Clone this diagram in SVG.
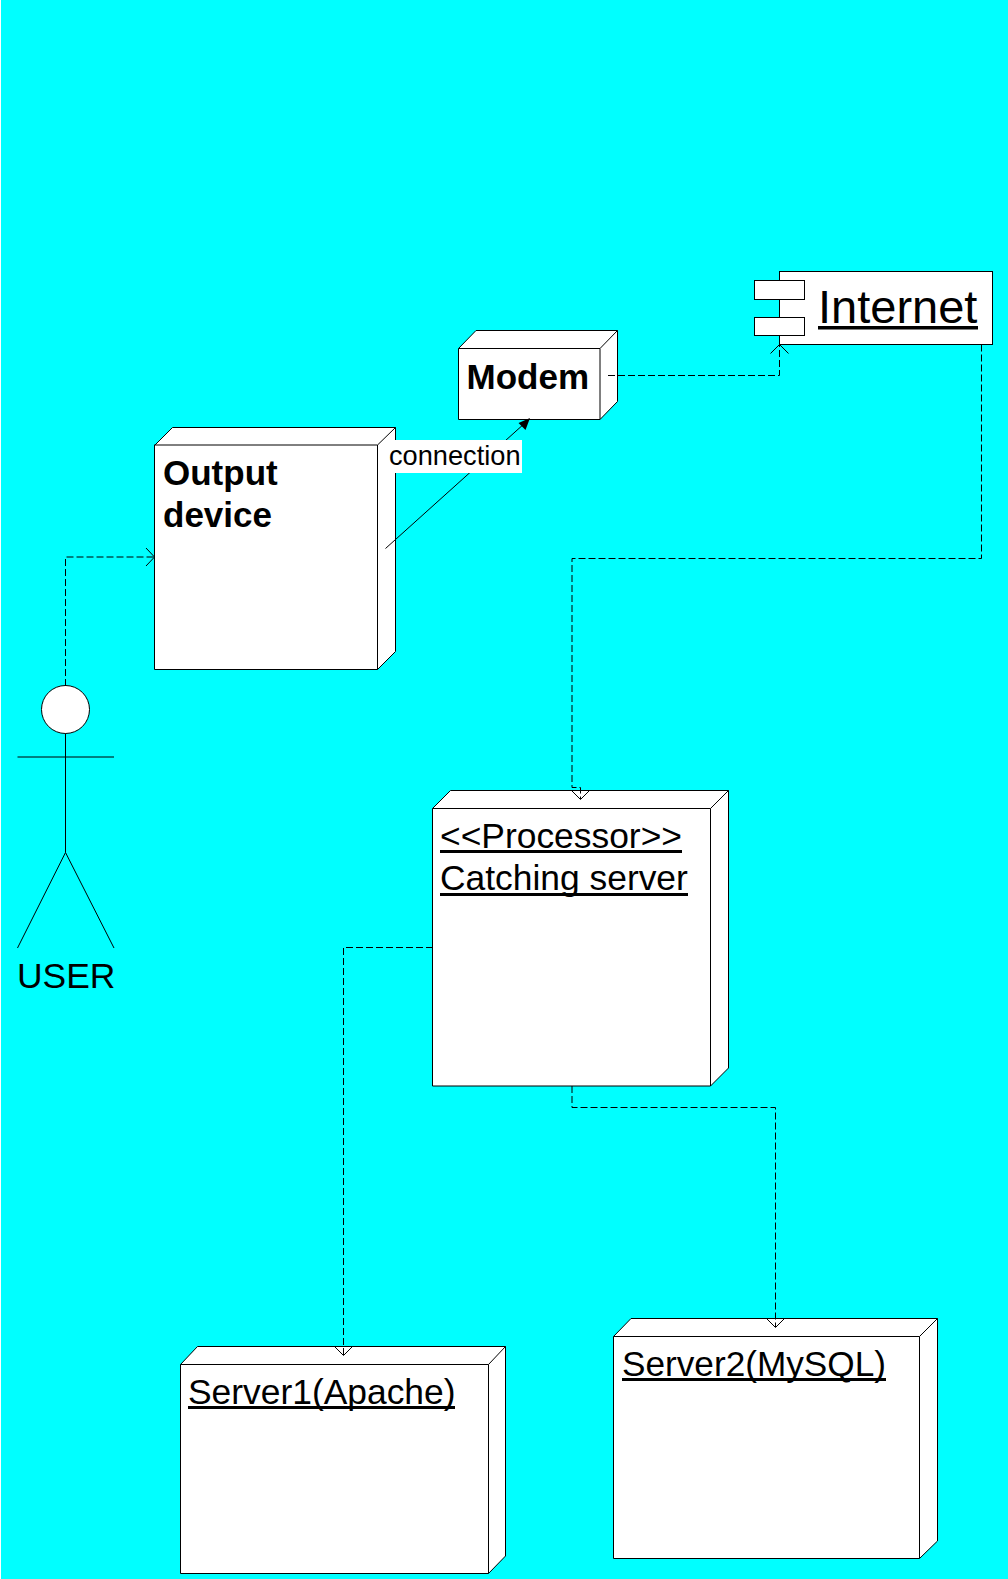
<svg xmlns="http://www.w3.org/2000/svg" width="1008" height="1579" viewBox="0 0 1008 1579">
<style>
text{font-family:"Liberation Sans",Arial,sans-serif;fill:#000}
.t{font-size:35.4px}.b{font-size:35px;font-weight:bold}
.s{fill:#fff;stroke:#000;stroke-width:1}
.l{fill:none;stroke:#000;stroke-width:1}
.d{fill:none;stroke:#000;stroke-width:1;stroke-dasharray:7 3}
</style>
<rect width="1008" height="1579" fill="#fff"/>
<rect x="1" y="0" width="1007" height="1579" fill="#0ff"/>
<g id="output-device">
<path class="s" d="M155 445L172.500 427.500H395.500V651.500L377.500 669.500H154.500V445ZM154.500 445H377.500V669.500M377.500 445L395.500 427.500"/>
<text class="b" x="163" y="485">Output</text><text class="b" x="163" y="527">device</text>
</g>
<g id="modem">
<path class="s" d="M458.500 348.500L476 330.500H617.500V401.500L600 419.500H458.500ZM458.500 348.500H600V419.500M600 348.500L617.500 330.500"/>
<text class="b" x="466.500" y="389">Modem</text>
</g>
<g id="internet">
<rect class="s" x="779.500" y="271.500" width="213" height="73"/>
<rect class="s" x="754.500" y="280.500" width="50" height="19"/>
<rect class="s" x="754.500" y="317.500" width="50" height="18"/>
<text x="818" y="323" font-size="47">Internet</text>
<rect x="818" y="326" width="160" height="3.500"/>
</g>
<g id="catching-server">
<path class="s" d="M432.500 808.500L450.500 790.500H728.500V1068L710.500 1086H432.500ZM432.500 808.500H710.500V1086M710.500 808.500L728.500 790.500"/>
<text class="t" x="440" y="848">&lt;&lt;Processor&gt;&gt;</text>
<rect x="440" y="850" width="242" height="3"/>
<text class="t" x="440" y="890">Catching server</text>
<rect x="440" y="893" width="248" height="3"/>
</g>
<g id="server1">
<path class="s" d="M180.500 1364.500L197.500 1346.500H505.500V1556L488.500 1573.500H180.500ZM180.500 1364.500H488.500V1573.500M488.500 1364.500L505.500 1346.500"/>
<text class="t" x="188" y="1404">Server1(Apache)</text>
<rect x="188" y="1406" width="267" height="3"/>
</g>
<g id="server2">
<path class="s" d="M613.500 1336.500L631 1318.500H937.500V1541L919.500 1558.500H613.500ZM613.500 1336.500H919.500V1558.500M919.500 1336.500L937.500 1318.500"/>
<text class="t" x="622" y="1376" style="font-size:35.200px">Server2(MySQL)</text>
<rect x="622" y="1378" width="264" height="3"/>
</g>
<g id="user">
<circle class="s" cx="65.500" cy="709.500" r="24"/>
<path class="l" d="M65.500 733.500V852.500M17.500 757H114M65.500 852.500L17.500 948M65.500 852.500L114 948"/>
<text class="t" x="17" y="988">USER</text>
</g>
<g id="connectors">
<path class="d" d="M65.500 686V557H154"/><path class="l" d="M146 548L154.500 557L146 566"/>
<path class="d" d="M608 375.500H779.500V345"/><path class="l" d="M770.500 353.500L779.500 344.500L788.500 353.500"/>
<path class="l" d="M385.500 548.500L525 423"/><path d="M530 418L518.500 423L525.500 430Z" fill="#000"/>
<path class="d" d="M981.500 344.500V558.500H572V787.500H580.500V799"/><path class="l" d="M571.500 790.500L580.500 799.500L589.500 790.500"/>
<path class="d" d="M433 947.500H343.500V1355"/><path class="l" d="M334.500 1346.500L343.500 1355.500L352.500 1346.500"/>
<path class="d" d="M572 1086V1107.500H775.500V1327"/><path class="l" d="M766.500 1318.500L775.500 1327.500L784.500 1318.500"/>
</g>
<g id="connection-label">
<rect x="383" y="440" width="139" height="33" fill="#fff"/>
<text x="389" y="465" font-size="27.200">connection</text>
</g>
</svg>
